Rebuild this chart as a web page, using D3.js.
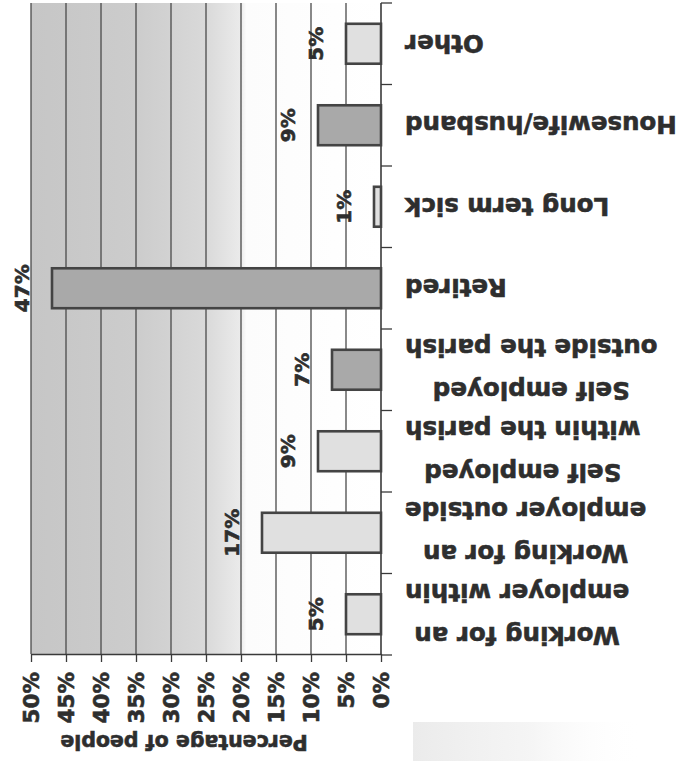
<!DOCTYPE html>
<html><head><meta charset="utf-8">
<script src="https://cdn.jsdelivr.net/npm/d3@7"></script>
<style>
body{margin:0;background:#fff}
svg{display:block}
text{font-family:"DejaVu Sans",sans-serif;font-weight:bold;fill:#2e2e2e;stroke:#2e2e2e;stroke-width:0.6px}
</style>
</head><body><svg width="686" height="761"></svg>
<script>
// Data (original chart order, top to bottom before the 180° turn of the scan)
const categories = [
  "Working for an\nemployer within",
  "Working for an\nemployer outside",
  "Self employed\nwithin the parish",
  "Self employed\noutside the parish",
  "Retired",
  "Long term sick",
  "Housewife/husband",
  "Other"
];
const values = [5, 17, 9, 7, 47, 1, 9, 5];
const tickValues = [0, 5, 10, 15, 20, 25, 30, 35, 40, 45, 50];
const axisTitle = "Percentage of people";
const darkCategories = ["Self employed\noutside the parish", "Retired", "Housewife/husband"];

const svg = d3.select("svg");
const data = categories.map((c, i) => ({c, v: values[i]}));

// image is the original chart turned 180°: 0% at right, categories reversed
const x = d3.scaleLinear().domain([0, 50]).range([381, 31]);
const y = d3.scaleBand().domain(categories.slice().reverse()).range([3, 655])
  .paddingInner(0.51).paddingOuter(0.255);
const plotTop = 3, plotBottom = 654;

const defs = svg.append("defs");
const bg = defs.append("linearGradient").attr("id", "bg")
  .attr("gradientUnits", "userSpaceOnUse").attr("x1", x(50)).attr("x2", x(0)).attr("y1", 0).attr("y2", 0);
[[0, "#c6c6c6"], [0.3, "#cccccc"], [0.5, "#d9d9d9"], [0.6, "#ebebeb"], [0.615, "#fcfcfc"], [1, "#ffffff"]]
  .forEach(([o, c]) => bg.append("stop").attr("offset", o).attr("stop-color", c));
const patch = defs.append("linearGradient").attr("id", "patch");
[[0, "#ebebeb", 1], [0.5, "#f2f2f2", 0.8], [1, "#ffffff", 0]]
  .forEach(([o, c, a]) => patch.append("stop").attr("offset", o).attr("stop-color", c).attr("stop-opacity", a));

svg.append("rect").attr("x", x(50)).attr("y", plotTop).attr("width", x(0) - x(50)).attr("height", plotBottom - plotTop)
  .attr("fill", "url(#bg)");

// gridlines
svg.append("g").selectAll("line").data(tickValues.filter(d => d > 0)).join("line")
  .attr("x1", d => x(d)).attr("x2", d => x(d)).attr("y1", plotTop).attr("y2", plotBottom)
  .attr("stroke", "#4a4a4a").attr("stroke-width", 1.3);

// value axis
const ax = svg.append("g").attr("transform", `translate(0,${plotBottom})`)
  .call(d3.axisBottom(x).tickValues(tickValues).tickSize(8).tickSizeOuter(0).tickFormat(d => d + "%"));
ax.attr("font-family", null).attr("font-size", null);
ax.select(".domain").attr("stroke", "#3a3a3a").attr("stroke-width", 1.5);
ax.selectAll(".tick line").attr("stroke", "#3a3a3a").attr("stroke-width", 1.3);
ax.selectAll(".tick text")
  .attr("x", 0).attr("y", 0).attr("dy", "0.36em")
  .attr("transform", "translate(0,18) rotate(-90)")
  .attr("text-anchor", "end").style("font-size", "21.5px");

// category axis
svg.append("line").attr("x1", x(0)).attr("x2", x(0)).attr("y1", plotTop).attr("y2", plotBottom)
  .attr("stroke", "#3a3a3a").attr("stroke-width", 1.6);
const gap = (y.step() - y.bandwidth()) / 2;
const dom = y.domain();
const bounds = dom.map(c => y(c) - gap).concat([y(dom[dom.length - 1]) + y.bandwidth() + gap]);
svg.append("g").selectAll("line").data(bounds).join("line")
  .attr("x1", x(0)).attr("x2", x(0) + 11).attr("y1", d => d).attr("y2", d => d)
  .attr("stroke", "#3a3a3a").attr("stroke-width", 1.3);

// bars
svg.append("g").selectAll("rect").data(data).join("rect")
  .attr("x", d => x(d.v)).attr("width", d => x(0) - x(d.v))
  .attr("y", d => y(d.c)).attr("height", y.bandwidth())
  .attr("fill", d => darkCategories.includes(d.c) ? "#a9a9a9" : "#e0e0e0")
  .attr("stroke", "#444").attr("stroke-width", 2.6);

// value labels
svg.append("g").selectAll("text").data(data).join("text")
  .attr("transform", d => `translate(${x(d.v) - 23},${y(d.c) + y.bandwidth() / 2}) rotate(-90)`)
  .attr("text-anchor", "middle").style("font-size", "20px")
  .text(d => d.v + "%");

// category labels (upside down)
const lineGap = 43;
data.forEach(d => {
  const lines = d.c.split("\n");
  const cy = y(d.c) + y.bandwidth() / 2;
  const t = svg.append("text").attr("transform", `translate(405,${cy}) rotate(180)`)
    .style("font-size", "24.5px").attr("text-anchor", "end");
  const spans = lines.map((l, i) => t.append("tspan").attr("x", 0)
    .attr("y", (i - (lines.length - 1) / 2) * lineGap).attr("dy", "0.36em").text(l));
  const maxW = d3.max(spans, s => s.node().getComputedTextLength());
  t.attr("text-anchor", "middle");
  spans.forEach(s => s.attr("x", -maxW / 2));
});

// axis title (upside down)
svg.append("text").attr("transform", "translate(184,735) rotate(180)")
  .attr("text-anchor", "middle").style("font-size", "20.5px").text(axisTitle);

// faint grey patch of the scan
svg.append("rect").attr("x", 413).attr("y", 722).attr("width", 230).attr("height", 39).attr("fill", "url(#patch)");
</script>
</body></html>
